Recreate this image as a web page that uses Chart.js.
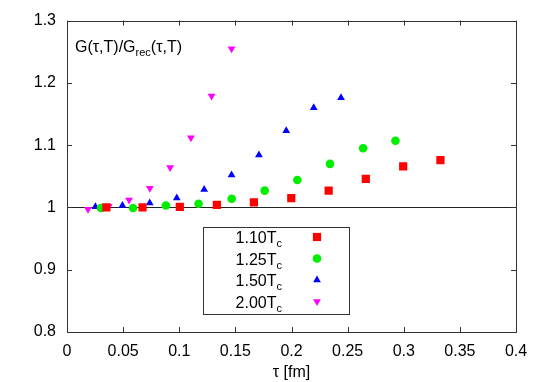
<!DOCTYPE html>
<html>
<head>
<meta charset="utf-8">
<script src="https://cdn.jsdelivr.net/npm/chart.js@4.4.1/dist/chart.umd.min.js"></script>
<style>
  html, body { margin: 0; padding: 0; background: #fff; }
  #wrap { width: 545px; height: 382px; }
</style>
</head>
<body>
<div id="wrap"><canvas id="chart" width="545" height="382"></canvas></div>
<script>
// ---- data ----
const tau110 = [0.0351, 0.0673, 0.1005, 0.1335, 0.1665, 0.1998, 0.2331, 0.2662, 0.2995, 0.3327];
const g110   = [1.000, 1.000, 1.001, 1.004, 1.008, 1.015, 1.027, 1.046, 1.066, 1.076];

const tau125 = [0.0303, 0.0589, 0.0881, 0.1172, 0.1467, 0.1761, 0.2052, 0.2343, 0.2638, 0.2926];
const g125   = [0.999, 0.999, 1.003, 1.006, 1.014, 1.027, 1.044, 1.070, 1.095, 1.107];

const tau150 = [0.0253, 0.0494, 0.0737, 0.0978, 0.1222, 0.1466, 0.1710, 0.1953, 0.2198, 0.2441];
const g150   = [1.001, 1.003, 1.007, 1.015, 1.029, 1.052, 1.084, 1.123, 1.160, 1.176];

const tau200 = [0.0187, 0.0372, 0.0553, 0.0738, 0.0919, 0.1104, 0.1288, 0.1466];
const g200   = [0.997, 1.002, 1.012, 1.031, 1.064, 1.112, 1.179, 1.255];

const seriesNames = ['1.10', '1.25', '1.50', '2.00'];
const xTickLabels = ['0', '0.05', '0.1', '0.15', '0.2', '0.25', '0.3', '0.35', '0.4'];
const yTickLabels = ['0.8', '0.9', '1', '1.1', '1.2', '1.3'];
const refLevel = 1;

const FONT = '"Liberation Sans", Arial, Helvetica, sans-serif';

function pts(xs, ys) {
    return xs.map((x, i) => ({ x: x, y: ys[i] }));
}

/*** ======== gnuplot-style decorations ======== ***/
const framePlugin = {
    id: 'frame',
    beforeDatasetsDraw(chart) {
        const { ctx, chartArea: a, scales } = chart;
        const y1 = scales.y.getPixelForValue(refLevel);
        ctx.save();
        ctx.strokeStyle = '#222';
        ctx.lineWidth = 1;
        ctx.beginPath();
        ctx.moveTo(a.left, Math.round(y1) + 0.5);
        ctx.lineTo(a.right, Math.round(y1) + 0.5);
        ctx.stroke();
        ctx.restore();
    },
    afterDraw(chart) {
        const { ctx, chartArea: a, scales } = chart;
        ctx.save();
        ctx.strokeStyle = '#333';
        ctx.lineWidth = 1;
        ctx.strokeRect(Math.round(a.left) + 0.5, Math.round(a.top) + 0.5,
                       Math.round(a.right - a.left), Math.round(a.bottom - a.top));
        // inward ticks, mirrored
        const tl = 5;
        ctx.beginPath();
        scales.x.ticks.forEach((t, i) => {
            const px = Math.round(scales.x.getPixelForTick(i)) + 0.5;
            ctx.moveTo(px, a.bottom); ctx.lineTo(px, a.bottom - tl);
            ctx.moveTo(px, a.top); ctx.lineTo(px, a.top + tl);
        });
        scales.y.ticks.forEach((t, i) => {
            const py = Math.round(scales.y.getPixelForTick(i)) + 0.5;
            ctx.moveTo(a.left, py); ctx.lineTo(a.left + tl, py);
            ctx.moveTo(a.right, py); ctx.lineTo(a.right - tl, py);
        });
        ctx.stroke();

        // label in upper-left corner
        ctx.fillStyle = '#000';
        ctx.textBaseline = 'alphabetic';
        ctx.textAlign = 'left';
        let x = a.left + 8;
        const base = a.top + 31;
        ctx.font = '16px ' + FONT;
        ctx.fillText('G(\u03c4,T)/G', x, base);
        x += ctx.measureText('G(\u03c4,T)/G').width;
        ctx.font = '11px ' + FONT;
        ctx.fillText('rec', x, base + 4);
        x += ctx.measureText('rec').width;
        ctx.font = '16px ' + FONT;
        ctx.fillText('(\u03c4,T)', x, base);

        // key box
        const bx = 203, by = 227, bw = 146, bh = 87;
        ctx.strokeStyle = '#333';
        ctx.strokeRect(bx + 0.5, by + 0.5, bw, bh);
        chart.data.datasets.forEach((ds, i) => {
            const cy = by + 10 + i * 21.5;
            ctx.font = '11px ' + FONT;
            const wc = ctx.measureText('c').width;
            ctx.fillStyle = '#000';
            ctx.textAlign = 'right';
            ctx.fillText('c', bx + 79, cy + 10);
            ctx.font = '16px ' + FONT;
            ctx.fillText(seriesNames[i] + 'T', bx + 79 - wc, cy + 6);
            ctx.fillStyle = ds.backgroundColor;
            Chart.helpers.drawPoint(ctx, {
                pointStyle: ds.pointStyle,
                radius: ds.pointRadius,
                rotation: ds.rotation || 0,
                borderWidth: 0
            }, bx + 114, cy);
        });
        ctx.restore();
    }
};

const ctx = document.getElementById('chart').getContext('2d');
new Chart(ctx, {
    type: 'scatter',
    data: {
        datasets: [
            { label: seriesNames[0], data: pts(tau110, g110), pointStyle: 'rect',
              pointRadius: 5.8, backgroundColor: '#ff0000', borderWidth: 0 },
            { label: seriesNames[1], data: pts(tau125, g125), pointStyle: 'circle',
              pointRadius: 4.3, backgroundColor: '#00ee00', borderWidth: 0 },
            { label: seriesNames[2], data: pts(tau150, g150), pointStyle: 'triangle',
              pointRadius: 4.5, backgroundColor: '#0000ff', borderWidth: 0 },
            { label: seriesNames[3], data: pts(tau200, g200), pointStyle: 'triangle',
              rotation: 180, pointRadius: 4.5, backgroundColor: '#ff00ff', borderWidth: 0 }
        ]
    },
    options: {
        responsive: false,
        animation: false,
        devicePixelRatio: 1,
        layout: { padding: { left: 0, right: 29, top: 20, bottom: 0 } },
        plugins: { legend: { display: false }, tooltip: { enabled: false } },
        elements: { point: { hoverRadius: 5 } },
        scales: {
            x: {
                type: 'linear', min: 0, max: 0.4,
                grid: { display: false, drawTicks: false },
                border: { display: false },
                ticks: {
                    stepSize: 0.05, padding: 10, color: '#000', maxRotation: 0,
                    font: { family: FONT, size: 16 },
                    callback: (v, i) => xTickLabels[i]
                },
                title: { display: true, text: '\u03c4 [fm]', color: '#000',
                         font: { family: FONT, size: 16 }, padding: 0 },
                afterFit: s => { s.height = 50; }
            },
            y: {
                type: 'linear', min: 0.8, max: 1.3,
                grid: { display: false, drawTicks: false },
                border: { display: false },
                ticks: {
                    stepSize: 0.1, padding: 11, color: '#000',
                    font: { family: FONT, size: 16 },
                    callback: (v, i) => yTickLabels[i]
                },
                afterFit: s => { s.width = 67; }
            }
        }
    },
    plugins: [framePlugin]
});
</script>
</body>
</html>
